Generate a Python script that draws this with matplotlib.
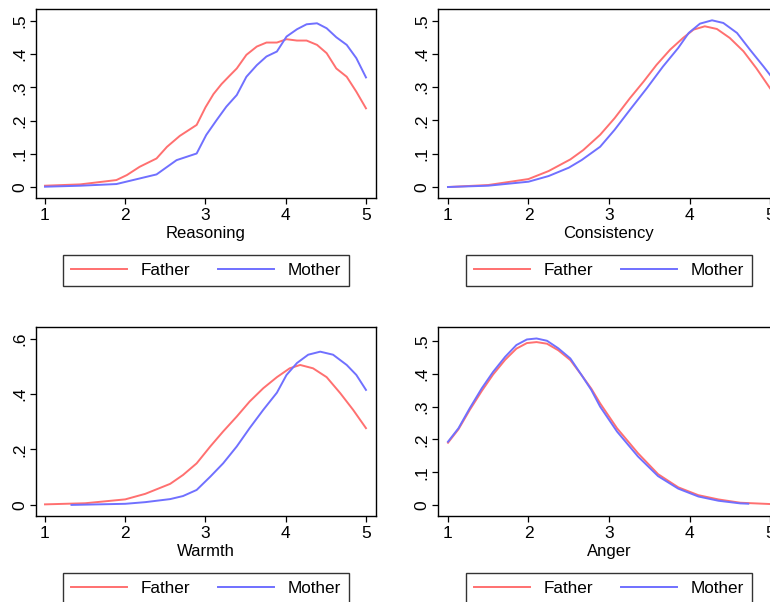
import matplotlib
matplotlib.use("Agg")
import matplotlib.pyplot as plt

plt.rcParams['font.family'] = ['Liberation Sans', 'DejaVu Sans']

RED = '#ff7070'
BLUE = '#7070ff'
groups = ['Father', 'Mother']

# kernel density curves, one per parenting scale
reason_x_f = [1.0, 1.44, 1.89, 2.02, 2.18, 2.39, 2.52, 2.68, 2.89, 3.0, 3.1, 3.2, 3.3, 3.39,
              3.51, 3.64, 3.76, 3.89, 4.01, 4.14, 4.26, 4.39, 4.51, 4.63, 4.76, 4.88, 5.0]
reason_y_f = [0.004, 0.008, 0.021, 0.036, 0.061, 0.086, 0.121, 0.154, 0.187, 0.24, 0.28, 0.31, 0.335, 0.357,
              0.398, 0.423, 0.435, 0.435, 0.445, 0.441, 0.441, 0.428, 0.403, 0.357, 0.332, 0.287, 0.237]
reason_x_m = [1.0, 1.44, 1.89, 2.39, 2.64, 2.89, 3.01, 3.14, 3.26, 3.39, 3.51, 3.64, 3.76, 3.89,
              4.01, 4.14, 4.26, 4.39, 4.51, 4.63, 4.76, 4.88, 5.0]
reason_y_m = [0.001, 0.004, 0.009, 0.038, 0.081, 0.101, 0.157, 0.202, 0.242, 0.277, 0.332, 0.367, 0.393, 0.408,
              0.453, 0.475, 0.49, 0.493, 0.478, 0.451, 0.428, 0.388, 0.33]

cons_x_f = [1.0, 1.5, 2.0, 2.25, 2.52, 2.68, 2.89, 3.07, 3.26, 3.43, 3.59, 3.76, 3.92, 4.05,
            4.19, 4.34, 4.5, 4.67, 4.83, 5.0]
cons_y_f = [0.0, 0.006, 0.024, 0.048, 0.083, 0.111, 0.157, 0.207, 0.267, 0.317, 0.367, 0.413, 0.448, 0.473,
            0.483, 0.475, 0.448, 0.408, 0.357, 0.297]
cons_x_m = [1.0, 1.5, 2.0, 2.25, 2.5, 2.66, 2.89, 3.07, 3.26, 3.47, 3.67, 3.86, 3.99, 4.13,
            4.28, 4.42, 4.59, 4.75, 4.92, 5.0]
cons_y_m = [0.0, 0.004, 0.016, 0.033, 0.058, 0.081, 0.121, 0.172, 0.232, 0.297, 0.362, 0.418, 0.463, 0.491,
            0.501, 0.493, 0.463, 0.413, 0.362, 0.337]

warm_x_f = [1.0, 1.5, 2.0, 2.25, 2.56, 2.72, 2.89, 3.06, 3.22, 3.39, 3.55, 3.72, 3.89, 4.05,
            4.18, 4.34, 4.51, 4.68, 4.84, 5.0]
warm_y_f = [0.002, 0.006, 0.02, 0.04, 0.076, 0.108, 0.15, 0.211, 0.265, 0.319, 0.373, 0.421, 0.461, 0.493,
            0.505, 0.493, 0.461, 0.403, 0.343, 0.277]
warm_x_m = [1.33, 2.0, 2.25, 2.56, 2.72, 2.89, 3.06, 3.22, 3.39, 3.55, 3.72, 3.89, 4.01, 4.14,
            4.28, 4.43, 4.59, 4.76, 4.88, 5.0]
warm_y_m = [0.0, 0.004, 0.01, 0.021, 0.032, 0.054, 0.102, 0.15, 0.211, 0.277, 0.343, 0.405, 0.469, 0.512,
            0.542, 0.553, 0.542, 0.505, 0.469, 0.415]

anger_x_f = [1.0, 1.13, 1.27, 1.42, 1.56, 1.71, 1.85, 1.98, 2.1, 2.23, 2.37, 2.52, 2.66, 2.78,
             2.89, 3.1, 3.36, 3.61, 3.86, 4.11, 4.36, 4.63, 5.0]
anger_y_f = [0.19, 0.231, 0.29, 0.348, 0.398, 0.443, 0.477, 0.494, 0.497, 0.492, 0.472, 0.442, 0.396, 0.355,
             0.31, 0.234, 0.158, 0.094, 0.054, 0.03, 0.017, 0.007, 0.003]
anger_x_m = [1.0, 1.13, 1.27, 1.42, 1.56, 1.71, 1.85, 1.98, 2.1, 2.23, 2.37, 2.52, 2.66, 2.78,
             2.89, 3.1, 3.36, 3.61, 3.86, 4.11, 4.36, 4.63, 4.73]
anger_y_m = [0.193, 0.234, 0.295, 0.356, 0.406, 0.452, 0.488, 0.505, 0.508, 0.501, 0.478, 0.447, 0.396, 0.351,
             0.30, 0.224, 0.148, 0.088, 0.05, 0.026, 0.013, 0.005, 0.004]

panels = [
    ('Reasoning', reason_x_f, reason_y_f, reason_x_m, reason_y_m, [0, .1, .2, .3, .4, .5], ['0', '.1', '.2', '.3', '.4', '.5']),
    ('Consistency', cons_x_f, cons_y_f, cons_x_m, cons_y_m, [0, .1, .2, .3, .4, .5], ['0', '.1', '.2', '.3', '.4', '.5']),
    ('Warmth', warm_x_f, warm_y_f, warm_x_m, warm_y_m, [0, .2, .4, .6], ['0', '.2', '.4', '.6']),
    ('Anger', anger_x_f, anger_y_f, anger_x_m, anger_y_m, [0, .1, .2, .3, .4, .5], ['0', '.1', '.2', '.3', '.4', '.5']),
]

W, H = 770, 602
fig = plt.figure(figsize=(W / 100, H / 100), dpi=100)
fig.patch.set_facecolor('white')

# axes boxes in pixels: left, top, width, height
boxes = [(36, 9, 340, 189), (438, 9, 342, 189), (36, 327, 340, 189), (438, 327, 342, 189)]
xlims = [(0.888, 5.125), (0.876, 5.124), (0.888, 5.125), (0.876, 5.124)]
ylims = [(-0.033, 0.536), (-0.033, 0.535), (-0.040, 0.642), (-0.0335, 0.543)]

for (name, xf, yf, xm, ym, yt, ytl), (l, t, w, h), xl, yl in zip(panels, boxes, xlims, ylims):
    ax = fig.add_axes([l / W, (H - t - h) / H, w / W, h / H])
    ax.plot(xf, yf, color=RED, lw=1.4, label=groups[0])
    ax.plot(xm, ym, color=BLUE, lw=1.4, label=groups[1])
    ax.set_xlim(*xl)
    ax.set_ylim(*yl)
    ax.set_xticks([1, 2, 3, 4, 5])
    ax.set_yticks(yt)
    ax.set_yticklabels(ytl, rotation=90, va='center')
    ax.tick_params(direction='out', length=4.5, width=0.9, labelsize=12.5)
    ax.tick_params(axis='x', pad=3)
    ax.tick_params(axis='y', pad=1.5)
    ax.set_xlabel(name, fontsize=12, labelpad=2)
    for s in ax.spines.values():
        s.set_linewidth(1.0)
    cx = (l + w / 2) / W
    cy = (H - (t + h + 72.5)) / H
    leg = ax.legend(loc='center', bbox_to_anchor=(cx, cy), bbox_transform=fig.transFigure,
                    ncol=2, fontsize=12.3, frameon=True, fancybox=False, edgecolor='black',
                    handlelength=3.3, handletextpad=0.8, columnspacing=1.6, borderpad=0.45,
                    borderaxespad=0)
    leg.get_frame().set_linewidth(1.0)

fig.savefig('out.png', dpi=100)
